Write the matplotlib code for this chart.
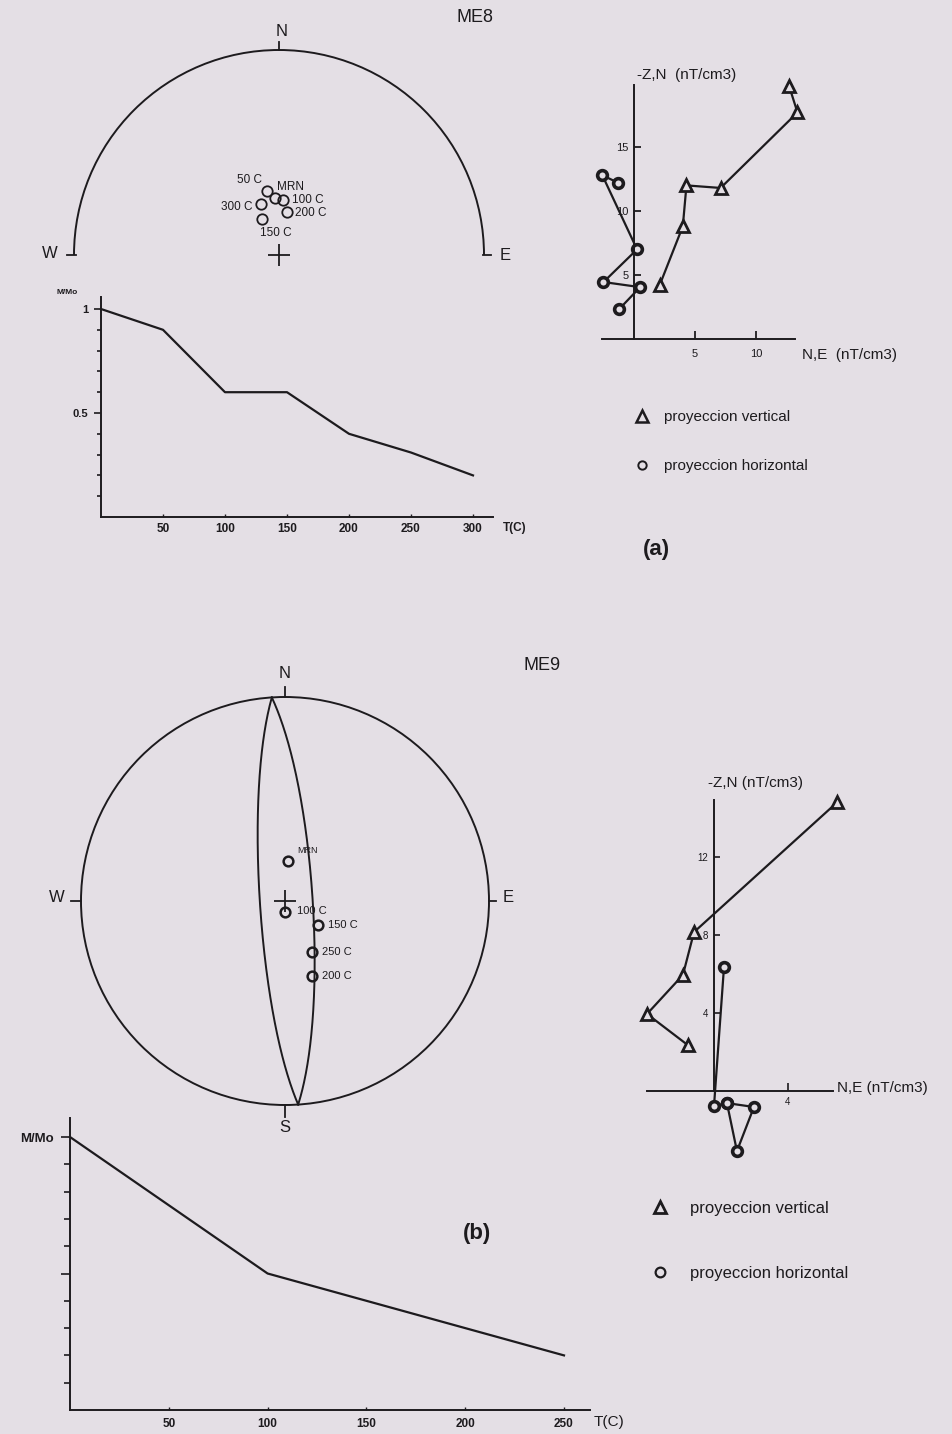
import numpy as np
import matplotlib.pyplot as plt
from matplotlib.patches import Arc, Circle
from matplotlib.lines import Line2D

plt.rcParams['font.family'] = ['Liberation Sans', 'DejaVu Sans']
INK = '#1d1b1e'
PAPER = '#e4dfe5'
for k in ['text.color', 'axes.labelcolor', 'xtick.color', 'ytick.color', 'axes.edgecolor']:
    plt.rcParams[k] = INK

# ---------------- data: ME8 ----------------
me8_steps = ['MRN', '50 C', '100 C', '150 C', '200 C', '300 C']
me8_dec = [356.0, 349.3, 4.2, 334.7, 10.5, 340.5]
me8_inc = [67.3, 64.0, 68.1, 74.2, 72.6, 68.3]

me8_T = [0, 50, 100, 150, 200, 250, 300]
me8_M = [1.0, 0.9, 0.6, 0.6, 0.4, 0.31, 0.2]

me8_vert_x = [2.1, 4.0, 4.3, 7.1, 13.4, 12.7]
me8_vert_y = [4.2, 8.8, 12.0, 11.8, 17.7, 19.8]
me8_hor_x = [-1.3, -2.6, 0.25, -2.5, 0.5, -1.2]
me8_hor_y = [12.2, 12.8, 7.0, 4.45, 4.05, 2.35]

# ---------------- data: ME9 ----------------
me9_steps = ['MRN', '100 C', '150 C', '200 C', '250 C']
me9_dec = [4.3, 180.0, 126.0, 160.3, 152.1]
me9_inc = [74.0, 85.6, 73.7, 57.9, 66.9]
me9_plane_dipdir = [266.3, 86.3]
me9_plane_dip = [80.0, 79.0]

me9_T = [0, 100, 150, 200, 250]
me9_M = [1.0, 0.5, 0.4, 0.3, 0.2]

me9_vert_x = [6.65, -1.08, -1.68, -3.62, -1.41]
me9_vert_y = [14.8, 8.15, 5.95, 3.95, 2.35]
me9_hor_x = [0.54, 0.0, 0.70, 2.16, 1.24, 0.70]
me9_hor_y = [6.35, -0.77, -0.62, -0.82, -3.08, -0.62]

# label offsets (pixels) for the stereonet points
me8_off = {'MRN': (2, 11, 'left'), '50 C': (-30, 11, 'left'), '100 C': (9, 0, 'left'),
           '150 C': (-2, -14, 'left'), '200 C': (8, -1, 'left'), '300 C': (-8, -3, 'right')}
me9_off = {'MRN': (9, 10, 'left'), '100 C': (12, 1, 'left'), '150 C': (10, 0, 'left'),
           '200 C': (10, 0, 'left'), '250 C': (10, 0, 'left')}

W, H = 953, 1434
fig = plt.figure(figsize=(W / 100, H / 100), dpi=100)
fig.patch.set_facecolor(PAPER)


def place(ox, oy, sx, sy, xlim, ylim):
    # axes whose data origin sits at pixel (ox, oy), sx/sy pixels per unit
    x0 = ox + xlim[0] * sx
    x1 = ox + xlim[1] * sx
    ytop = oy - ylim[1] * sy
    ybot = oy - ylim[0] * sy
    ax = fig.add_axes([x0 / W, 1 - ybot / H, (x1 - x0) / W, (ybot - ytop) / H])
    ax.set_xlim(xlim)
    ax.set_ylim(ylim)
    ax.patch.set_visible(False)
    return ax


def ftext(px, py, s, **kw):
    kw.setdefault('ha', 'center')
    kw.setdefault('va', 'center')
    fig.text(px / W, 1 - py / H, s, **kw)


def schmidt(dec, inc):
    d = np.radians(dec)
    i = np.radians(np.abs(inc))
    r = np.sqrt(1 - np.sin(i))
    return r * np.sin(d), r * np.cos(d)


def great_circle(dip_dir, dip):
    dd = np.radians(dip_dir)
    dp = np.radians(dip)
    st = dd - np.pi / 2
    s = np.array([np.sin(st), np.cos(st), 0.0])
    d = np.array([np.cos(dp) * np.sin(dd), np.cos(dp) * np.cos(dd), np.sin(dp)])
    t = np.linspace(0, np.pi, 200)
    v = np.outer(np.cos(t), s) + np.outer(np.sin(t), d)
    h = np.hypot(v[:, 0], v[:, 1])
    r = np.sqrt(np.clip(1 - v[:, 2], 0, None))
    return r * v[:, 0] / h, r * v[:, 1] / h


def origin_spines(ax, xb, yb):
    for side in ['top', 'right']:
        ax.spines[side].set_visible(False)
    ax.spines['left'].set_position(('data', 0))
    ax.spines['bottom'].set_position(('data', 0))
    ax.spines['left'].set_bounds(*yb)
    ax.spines['bottom'].set_bounds(*xb)
    for side in ['left', 'bottom']:
        ax.spines[side].set_linewidth(1.4)


# ================= ME8 stereonet (upper half) =================
ax = place(279, 255, 205, 205, (-1.3, 1.3), (-0.35, 1.25))
ax.axis('off')
ax.add_patch(Arc((0, 0), 2, 2, theta1=0, theta2=180, color=INK, lw=1.4))
ax.plot([0, 0], [1, 1.04], color=INK, lw=1.3)
ax.plot([-1.035, -0.99], [0, 0], color=INK, lw=1.3)
ax.plot([0.995, 1.035], [0, 0], color=INK, lw=1.3)
ax.plot(0, 0, marker='+', ms=16, mew=1.3, color=INK)
x8, y8 = schmidt(me8_dec, me8_inc)
ax.plot(x8, y8, 'o', ls='none', ms=7.5, mfc='none', mec=INK, mew=1.3)
for name, xx, yy in zip(me8_steps, x8, y8):
    dx, dy, ha = me8_off[name]
    ax.annotate(name, (xx, yy), xytext=(dx, dy), textcoords='offset pixels',
                ha=ha, va='center', fontsize=8.5)
ftext(282, 32, 'N', fontsize=12)
ftext(50, 253, 'W', fontsize=12)
ftext(505, 255, 'E', fontsize=12)
ftext(475, 18, 'ME8', fontsize=13)

# ================= ME8 decay =================
ax = place(101, 517, 1.24, 208, (-60, 345), (-0.12, 1.16))
origin_spines(ax, (0, 316), (0, 1.06))
ax.plot(me8_T, me8_M, color=INK, lw=1.6)
ax.set_xticks(me8_T[1:])
ax.set_xticklabels([str(t) for t in me8_T[1:]], fontsize=8.5, fontweight='bold')
ax.set_yticks([0.5, 1.0])
ax.set_yticklabels(['0.5', '1'], fontsize=8, fontweight='bold')
ax.set_yticks([0.1, 0.2, 0.3, 0.4, 0.6, 0.7, 0.8, 0.9], minor=True)
ax.tick_params(axis='x', direction='in', length=2, width=1, pad=4)
ax.tick_params(axis='y', which='major', direction='out', length=5, width=1.2, pad=4)
ax.tick_params(axis='y', which='minor', direction='out', length=3, width=1.2)
ftext(67, 293, 'M/Mo', fontsize=6, fontweight='bold')
ftext(503, 528, 'T(C)', fontsize=8.5, fontweight='bold', ha='left')

# ================= ME8 Zijderveld =================
ax = place(634, 339, 12.2, 12.8, (-4.5, 16), (-3, 22))
origin_spines(ax, (-2.6, 13.2), (0, 19.85))
ax.plot(me8_vert_x, me8_vert_y, color=INK, lw=1.6, marker='^', ms=8,
        mfc=PAPER, mec=INK, mew=2)
ax.plot(me8_hor_x, me8_hor_y, color=INK, lw=1.6, marker='o', ms=7,
        mfc=PAPER, mec=INK, mew=2.6)
ax.set_xticks([5, 10])
ax.set_xticklabels(['5', '10'], fontsize=8)
ax.set_yticks([5, 10, 15])
ax.set_yticklabels(['5', '10', '15'], fontsize=8)
ax.tick_params(axis='x', direction='in', length=6, width=1.3, pad=7)
ax.tick_params(axis='y', direction='in', length=5, width=1.3, pad=4)
ftext(637, 75, '-Z,N  (nT/cm3)', fontsize=11, ha='left')
ftext(802, 355, 'N,E  (nT/cm3)', fontsize=11, ha='left')

h_tri = Line2D([], [], marker='^', ls='none', mfc=PAPER, mec=INK, mew=1.8, ms=8)
h_cir = Line2D([], [], marker='o', ls='none', mfc=PAPER, mec=INK, mew=1.4, ms=6)
fig.legend([h_tri, h_cir], ['proyeccion vertical', 'proyeccion horizontal'],
           loc='upper left', bbox_to_anchor=(634.5 / W, 1 - 410 / H),
           frameon=False, fontsize=11, handlelength=1, handletextpad=0.9,
           labelspacing=2.3, borderpad=0, borderaxespad=0)
ftext(656, 549, '(a)', fontsize=16, fontweight='bold')

# ================= ME9 stereonet =================
ax = place(285, 901, 204, 204, (-1.35, 1.45), (-1.25, 1.25))
ax.axis('off')
ax.add_patch(Circle((0, 0), 1, fill=False, color=INK, lw=1.4))
ax.plot([0, 0], [1, 1.05], color=INK, lw=1.3)
ax.plot([0, 0], [-1, -1.06], color=INK, lw=1.3)
ax.plot([-1.05, -1], [0, 0], color=INK, lw=1.3)
ax.plot([1, 1.035], [0, 0], color=INK, lw=1.3)
ax.plot(0, 0, marker='+', ms=16, mew=1.3, color=INK)
for ddir, dip in zip(me9_plane_dipdir, me9_plane_dip):
    gx, gy = great_circle(ddir, dip)
    ax.plot(gx, gy, color=INK, lw=1.4)
x9, y9 = schmidt(me9_dec, me9_inc)
ax.plot(x9, y9, 'o', ls='none', ms=7, mfc='none', mec=INK, mew=1.8)
for name, xx, yy in zip(me9_steps, x9, y9):
    dx, dy, ha = me9_off[name]
    ax.annotate(name, (xx, yy), xytext=(dx, dy), textcoords='offset pixels',
                ha=ha, va='center', fontsize=6.5 if name == 'MRN' else 8)
ftext(285, 673, 'N', fontsize=12)
ftext(57, 898, 'W', fontsize=12)
ftext(508, 898, 'E', fontsize=12)
ftext(285, 1127, 'S', fontsize=12)
ftext(542, 665, 'ME9', fontsize=13)

# ================= ME9 Zijderveld =================
ax = place(714, 1091, 18.5, 19.5, (-5, 8), (-4.5, 17))
origin_spines(ax, (-3.62, 6.43), (0, 14.9))
ax.plot(me9_vert_x, me9_vert_y, color=INK, lw=1.6, marker='^', ms=9,
        mfc=PAPER, mec=INK, mew=2)
ax.plot(me9_hor_x, me9_hor_y, color=INK, lw=1.6, marker='o', ms=7,
        mfc=PAPER, mec=INK, mew=2.6)
ax.set_xticks([4])
ax.set_xticklabels(['4'], fontsize=7)
ax.set_yticks([4, 8, 12])
ax.set_yticklabels(['4', '8', '12'], fontsize=7)
ax.tick_params(axis='x', direction='in', length=6, width=1.2, pad=4)
ax.tick_params(axis='y', direction='in', length=4, width=1.2, pad=4)
ftext(756, 783, '-Z,N (nT/cm3)', fontsize=11)
ftext(837, 1088, 'N,E (nT/cm3)', fontsize=11, ha='left')

h_tri = Line2D([], [], marker='^', ls='none', mfc=PAPER, mec=INK, mew=2, ms=9)
h_cir = Line2D([], [], marker='o', ls='none', mfc=PAPER, mec=INK, mew=1.6, ms=7)
fig.legend([h_tri, h_cir], ['proyeccion vertical', 'proyeccion horizontal'],
           loc='upper left', bbox_to_anchor=(651.5 / W, 1 - 1201 / H),
           frameon=False, fontsize=12, handlelength=1, handletextpad=1.3,
           labelspacing=3.0, borderpad=0, borderaxespad=0)

# ================= ME9 decay =================
ax = place(70, 1410, 1.976, 273, (-40, 290), (-0.1, 1.12))
origin_spines(ax, (0, 263), (0, 1.07))
ax.plot(me9_T, me9_M, color=INK, lw=1.6)
ax.set_xticks([50, 100, 150, 200, 250])
ax.set_xticklabels(['50', '100', '150', '200', '250'], fontsize=8.5, fontweight='bold')
ax.set_yticks([0.5, 1.0])
ax.set_yticklabels(['', 'M/Mo'], fontsize=9.5, fontweight='bold')
ax.set_yticks([0.1, 0.2, 0.3, 0.4, 0.6, 0.7, 0.8, 0.9], minor=True)
ax.tick_params(axis='x', direction='in', length=2, width=1, pad=6)
ax.tick_params(axis='y', which='major', direction='out', length=6.5, width=1.2, pad=5)
ax.tick_params(axis='y', which='minor', direction='out', length=4, width=1.2)
ftext(594, 1422, 'T(C)', fontsize=11, ha='left')
ftext(477, 1233, '(b)', fontsize=16, fontweight='bold')

fig.savefig('out.png', dpi=100, facecolor=PAPER)
